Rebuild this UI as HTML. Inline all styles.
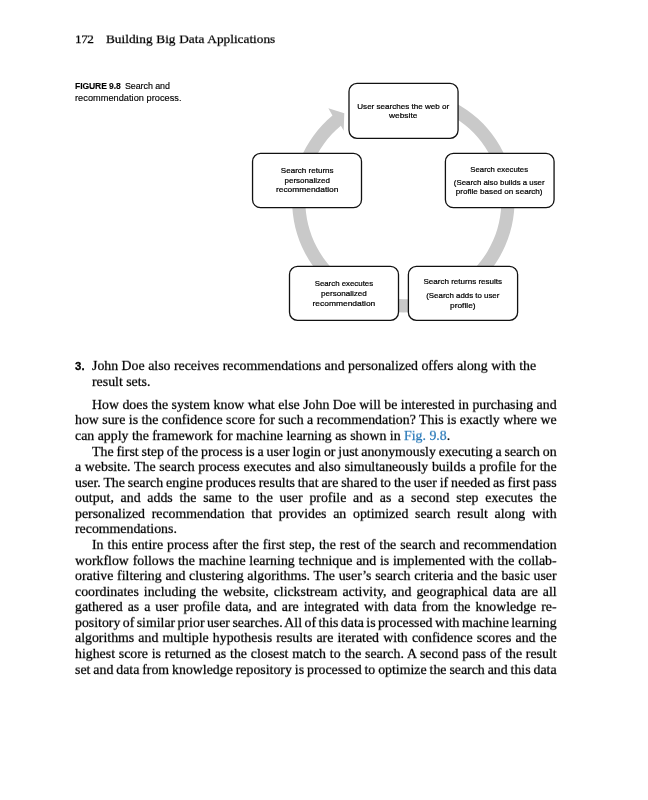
<!DOCTYPE html>
<html><head><meta charset="utf-8"><style>
html,body{margin:0;padding:0;background:#fff;}
body{width:648px;height:800px;position:relative;overflow:hidden;}
.t{position:absolute;white-space:nowrap;line-height:20px;will-change:transform;}
.m{display:inline-block;width:0;height:0;vertical-align:baseline;}
svg{position:absolute;left:0;top:0;will-change:transform;}
</style></head><body>
<svg width="648" height="800" viewBox="0 0 648 800">
<path d="M361.69 98.10 A111.2 111.2 0 1 1 332.47 115.52 L328.37 108.28 L344.28 113.30 L343.71 130.63 L340.88 125.69 A98.0 98.0 0 1 0 366.64 110.34 Z" fill="#c9c9c9"/>
<rect x="349.00" y="83.40" width="109.06" height="54.90" rx="8.0" ry="8.0" fill="#fff" stroke="#111" stroke-width="1.3"/>
<text x="403.2" y="108.6" textLength="91.8" lengthAdjust="spacingAndGlyphs" text-anchor="middle" font-family="Liberation Sans" font-size="8" fill="#000" stroke="#000" stroke-width="0.22">User searches the web or</text>
<text x="403.2" y="117.9" textLength="28.3" lengthAdjust="spacingAndGlyphs" text-anchor="middle" font-family="Liberation Sans" font-size="8" fill="#000" stroke="#000" stroke-width="0.22">website</text>
<rect x="445.40" y="153.40" width="108.67" height="54.30" rx="8.0" ry="8.0" fill="#fff" stroke="#111" stroke-width="1.3"/>
<text x="499.2" y="171.6" textLength="57.7" lengthAdjust="spacingAndGlyphs" text-anchor="middle" font-family="Liberation Sans" font-size="8" fill="#000" stroke="#000" stroke-width="0.22">Search executes</text>
<text x="499.2" y="184.7" textLength="90.8" lengthAdjust="spacingAndGlyphs" text-anchor="middle" font-family="Liberation Sans" font-size="8" fill="#000" stroke="#000" stroke-width="0.22">(Search also builds a user</text>
<text x="499.2" y="194.3" textLength="86.7" lengthAdjust="spacingAndGlyphs" text-anchor="middle" font-family="Liberation Sans" font-size="8" fill="#000" stroke="#000" stroke-width="0.22">profile based on search)</text>
<rect x="252.55" y="153.40" width="108.95" height="54.30" rx="8.0" ry="8.0" fill="#fff" stroke="#111" stroke-width="1.3"/>
<text x="307.2" y="172.7" textLength="52.7" lengthAdjust="spacingAndGlyphs" text-anchor="middle" font-family="Liberation Sans" font-size="8" fill="#000" stroke="#000" stroke-width="0.22">Search returns</text>
<text x="307.2" y="182.6" textLength="45.4" lengthAdjust="spacingAndGlyphs" text-anchor="middle" font-family="Liberation Sans" font-size="8" fill="#000" stroke="#000" stroke-width="0.22">personalized</text>
<text x="307.2" y="192.4" textLength="62.5" lengthAdjust="spacingAndGlyphs" text-anchor="middle" font-family="Liberation Sans" font-size="8" fill="#000" stroke="#000" stroke-width="0.22">recommendation</text>
<rect x="289.50" y="266.40" width="109.00" height="53.90" rx="8.0" ry="8.0" fill="#fff" stroke="#111" stroke-width="1.3"/>
<text x="343.9" y="285.9" textLength="58.5" lengthAdjust="spacingAndGlyphs" text-anchor="middle" font-family="Liberation Sans" font-size="8" fill="#000" stroke="#000" stroke-width="0.22">Search executes</text>
<text x="343.9" y="295.6" textLength="45.9" lengthAdjust="spacingAndGlyphs" text-anchor="middle" font-family="Liberation Sans" font-size="8" fill="#000" stroke="#000" stroke-width="0.22">personalized</text>
<text x="343.9" y="305.6" textLength="62.8" lengthAdjust="spacingAndGlyphs" text-anchor="middle" font-family="Liberation Sans" font-size="8" fill="#000" stroke="#000" stroke-width="0.22">recommendation</text>
<rect x="408.40" y="266.40" width="109.20" height="54.00" rx="8.0" ry="8.0" fill="#fff" stroke="#111" stroke-width="1.3"/>
<text x="462.8" y="284.0" textLength="78.6" lengthAdjust="spacingAndGlyphs" text-anchor="middle" font-family="Liberation Sans" font-size="8" fill="#000" stroke="#000" stroke-width="0.22">Search returns results</text>
<text x="462.8" y="297.7" textLength="73.1" lengthAdjust="spacingAndGlyphs" text-anchor="middle" font-family="Liberation Sans" font-size="8" fill="#000" stroke="#000" stroke-width="0.22">(Search adds to user</text>
<text x="462.8" y="307.6" textLength="25.5" lengthAdjust="spacingAndGlyphs" text-anchor="middle" font-family="Liberation Sans" font-size="8" fill="#000" stroke="#000" stroke-width="0.22">profile)</text>
</svg>
<div class="t" id="i0" style="left:75.00px;top:29.38px;font-family:'Liberation Serif', serif;font-size:13.3px;font-weight:normal;color:#000;transform:scaleY(0.93);transform-origin:0 13.02px;-webkit-text-stroke:0.25px currentColor;letter-spacing:-0.518px;">172<span class="m" id="m0"></span></div>
<div class="t" id="i1" style="left:105.90px;top:29.38px;font-family:'Liberation Serif', serif;font-size:13.3px;font-weight:normal;color:#000;transform:scaleY(0.93);transform-origin:0 13.02px;-webkit-text-stroke:0.25px currentColor;word-spacing:0.413px;">Building Big Data Applications<span class="m" id="m1"></span></div>
<div class="t" id="i2" style="left:74.60px;top:76.40px;font-family:'Liberation Sans', sans-serif;font-size:8.6px;font-weight:bold;color:#000;-webkit-text-stroke:0.1px currentColor;letter-spacing:-0.121px;">FIGURE 9.8<span class="m" id="m2"></span></div>
<div class="t" id="i3" style="left:125.00px;top:76.40px;font-family:'Liberation Sans', sans-serif;font-size:8.9px;font-weight:normal;color:#000;-webkit-text-stroke:0.15px currentColor;letter-spacing:-0.061px;">Search and<span class="m" id="m3"></span></div>
<div class="t" id="i4" style="left:74.60px;top:88.40px;font-family:'Liberation Sans', sans-serif;font-size:9.2px;font-weight:normal;color:#000;-webkit-text-stroke:0.15px currentColor;letter-spacing:0.038px;">recommendation process.<span class="m" id="m4"></span></div>
<div class="t" id="i5" style="left:74.80px;top:355.60px;font-family:'Liberation Sans', sans-serif;font-size:11.4px;font-weight:bold;color:#000;-webkit-text-stroke:0.3px currentColor;letter-spacing:0.050px;">3.<span class="m" id="m5"></span></div>
<div class="t" id="i6" style="left:91.80px;top:355.82px;font-family:'Liberation Serif', serif;font-size:13.85px;font-weight:normal;color:#000;transform:scaleY(0.92);transform-origin:0 12.88px;-webkit-text-stroke:0.25px currentColor;">John Doe also receives recommendations and personalized offers along with the<span class="m" id="m6"></span></div>
<div class="t" id="i7" style="left:91.80px;top:371.62px;font-family:'Liberation Serif', serif;font-size:13.85px;font-weight:normal;color:#000;transform:scaleY(0.92);transform-origin:0 12.88px;-webkit-text-stroke:0.25px currentColor;">result sets.<span class="m" id="m7"></span></div>
<div class="t" id="i8" style="left:91.60px;top:394.92px;font-family:'Liberation Serif', serif;font-size:13.85px;font-weight:normal;color:#000;transform:scaleY(0.92);transform-origin:0 12.88px;-webkit-text-stroke:0.25px currentColor;word-spacing:0.010px;">How does the system know what else John Doe will be interested in purchasing and<span class="m" id="m8"></span></div>
<div class="t" id="i9" style="left:74.60px;top:410.49px;font-family:'Liberation Serif', serif;font-size:13.85px;font-weight:normal;color:#000;transform:scaleY(0.92);transform-origin:0 12.88px;-webkit-text-stroke:0.25px currentColor;word-spacing:-0.014px;">how sure is the confidence score for such a recommendation? This is exactly where we<span class="m" id="m9"></span></div>
<div class="t" id="i10" style="left:74.60px;top:426.06px;font-family:'Liberation Serif', serif;font-size:13.85px;font-weight:normal;color:#000;transform:scaleY(0.92);transform-origin:0 12.88px;-webkit-text-stroke:0.25px currentColor;">can apply the framework for machine learning as shown in <span style="color:#2a7ab9">Fig. 9.8</span>.<span class="m" id="m10"></span></div>
<div class="t" id="i11" style="left:91.60px;top:441.63px;font-family:'Liberation Serif', serif;font-size:13.85px;font-weight:normal;color:#000;transform:scaleY(0.92);transform-origin:0 12.88px;-webkit-text-stroke:0.25px currentColor;word-spacing:-0.566px;">The first step of the process is a user login or just anonymously executing a search on<span class="m" id="m11"></span></div>
<div class="t" id="i12" style="left:74.60px;top:457.20px;font-family:'Liberation Serif', serif;font-size:13.85px;font-weight:normal;color:#000;transform:scaleY(0.92);transform-origin:0 12.88px;-webkit-text-stroke:0.25px currentColor;word-spacing:0.219px;">a website. The search process executes and also simultaneously builds a profile for the<span class="m" id="m12"></span></div>
<div class="t" id="i13" style="left:74.60px;top:472.77px;font-family:'Liberation Serif', serif;font-size:13.85px;font-weight:normal;color:#000;transform:scaleY(0.92);transform-origin:0 12.88px;-webkit-text-stroke:0.25px currentColor;word-spacing:-0.566px;">user. The search engine produces results that are shared to the user if needed as first pass<span class="m" id="m13"></span></div>
<div class="t" id="i14" style="left:74.60px;top:488.34px;font-family:'Liberation Serif', serif;font-size:13.85px;font-weight:normal;color:#000;transform:scaleY(0.92);transform-origin:0 12.88px;-webkit-text-stroke:0.25px currentColor;word-spacing:3.299px;">output, and adds the same to the user profile and as a second step executes the<span class="m" id="m14"></span></div>
<div class="t" id="i15" style="left:74.60px;top:503.91px;font-family:'Liberation Serif', serif;font-size:13.85px;font-weight:normal;color:#000;transform:scaleY(0.92);transform-origin:0 12.88px;-webkit-text-stroke:0.25px currentColor;word-spacing:3.235px;">personalized recommendation that provides an optimized search result along with<span class="m" id="m15"></span></div>
<div class="t" id="i16" style="left:74.60px;top:519.48px;font-family:'Liberation Serif', serif;font-size:13.85px;font-weight:normal;color:#000;transform:scaleY(0.92);transform-origin:0 12.88px;-webkit-text-stroke:0.25px currentColor;">recommendations.<span class="m" id="m16"></span></div>
<div class="t" id="i17" style="left:91.60px;top:535.05px;font-family:'Liberation Serif', serif;font-size:13.85px;font-weight:normal;color:#000;transform:scaleY(0.92);transform-origin:0 12.88px;-webkit-text-stroke:0.25px currentColor;word-spacing:0.538px;">In this entire process after the first step, the rest of the search and recommendation<span class="m" id="m17"></span></div>
<div class="t" id="i18" style="left:74.60px;top:550.62px;font-family:'Liberation Serif', serif;font-size:13.85px;font-weight:normal;color:#000;transform:scaleY(0.92);transform-origin:0 12.88px;-webkit-text-stroke:0.25px currentColor;word-spacing:0.339px;">workflow follows the machine learning technique and is implemented with the collab-<span class="m" id="m18"></span></div>
<div class="t" id="i19" style="left:74.60px;top:566.19px;font-family:'Liberation Serif', serif;font-size:13.85px;font-weight:normal;color:#000;transform:scaleY(0.92);transform-origin:0 12.88px;-webkit-text-stroke:0.25px currentColor;word-spacing:0.228px;">orative filtering and clustering algorithms. The user&#8217;s search criteria and the basic user<span class="m" id="m19"></span></div>
<div class="t" id="i20" style="left:74.60px;top:581.76px;font-family:'Liberation Serif', serif;font-size:13.85px;font-weight:normal;color:#000;transform:scaleY(0.92);transform-origin:0 12.88px;-webkit-text-stroke:0.25px currentColor;word-spacing:1.507px;">coordinates including the website, clickstream activity, and geographical data are all<span class="m" id="m20"></span></div>
<div class="t" id="i21" style="left:74.60px;top:597.33px;font-family:'Liberation Serif', serif;font-size:13.85px;font-weight:normal;color:#000;transform:scaleY(0.92);transform-origin:0 12.88px;-webkit-text-stroke:0.25px currentColor;word-spacing:1.535px;">gathered as a user profile data, and are integrated with data from the knowledge re-<span class="m" id="m21"></span></div>
<div class="t" id="i22" style="left:74.60px;top:612.90px;font-family:'Liberation Serif', serif;font-size:13.85px;font-weight:normal;color:#000;transform:scaleY(0.92);transform-origin:0 12.88px;-webkit-text-stroke:0.25px currentColor;word-spacing:-1.052px;">pository of similar prior user searches. All of this data is processed with machine learning<span class="m" id="m22"></span></div>
<div class="t" id="i23" style="left:74.60px;top:628.47px;font-family:'Liberation Serif', serif;font-size:13.85px;font-weight:normal;color:#000;transform:scaleY(0.92);transform-origin:0 12.88px;-webkit-text-stroke:0.25px currentColor;word-spacing:0.689px;">algorithms and multiple hypothesis results are iterated with confidence scores and the<span class="m" id="m23"></span></div>
<div class="t" id="i24" style="left:74.60px;top:644.04px;font-family:'Liberation Serif', serif;font-size:13.85px;font-weight:normal;color:#000;transform:scaleY(0.92);transform-origin:0 12.88px;-webkit-text-stroke:0.25px currentColor;word-spacing:0.329px;">highest score is returned as the closest match to the search. A second pass of the result<span class="m" id="m24"></span></div>
<div class="t" id="i25" style="left:74.60px;top:659.61px;font-family:'Liberation Serif', serif;font-size:13.85px;font-weight:normal;color:#000;transform:scaleY(0.92);transform-origin:0 12.88px;-webkit-text-stroke:0.25px currentColor;word-spacing:-0.529px;">set and data from knowledge repository is processed to optimize the search and this data<span class="m" id="m25"></span></div>
</body></html>
